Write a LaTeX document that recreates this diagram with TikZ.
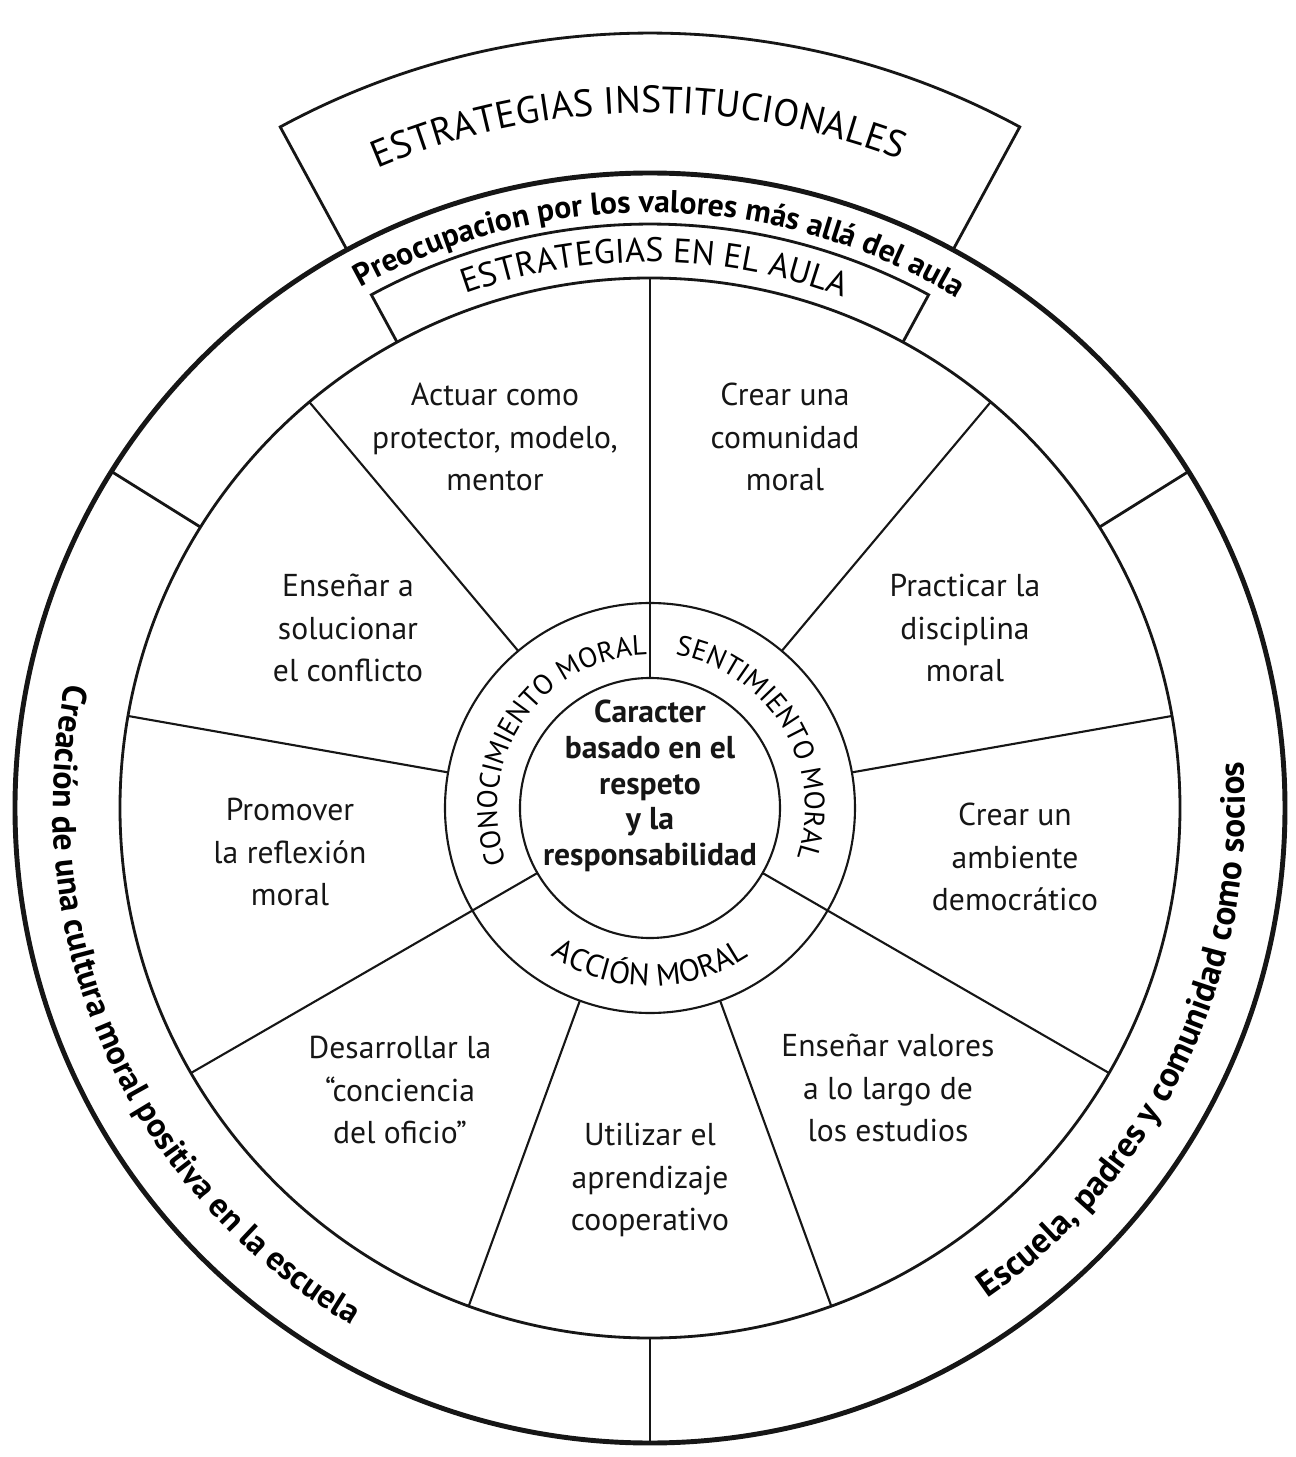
\documentclass[tikz,border=0pt]{standalone}
\usepackage{fontspec}
\setsansfont{PT Sans}
\usetikzlibrary{
  calc,
  decorations.text
}
\definecolor{wheelInk}{HTML}{161616}
\newcommand{\rimR}{6.35}
\newcommand{\bandR}{5.30}
\newcommand{\ringR}{2.05}
\newcommand{\coreR}{1.30}
\tikzset{
  every node/.style={font=\sffamily, text=wheelInk},
  rim/.style={draw=wheelInk, line width=1.4pt},
  border/.style={draw=wheelInk, line width=0.8pt},
  spoke/.style={draw=wheelInk, line width=0.6pt},
  cell/.style={
    font=\sffamily\fontsize{9}{12}\selectfont,
    align=center,
    inner sep=0pt
  },
  core/.style={
    font=\sffamily\bfseries\fontsize{9}{10.2}\selectfont,
    align=center,
    inner sep=0pt
  },
  curved/.style={
    decorate,
    decoration={text along path, text align=center, text={#1}}
  }
}

\begin{document}
\begin{tikzpicture}
  \useasboundingbox (-6.50,-6.49) rectangle (6.46,8.08);

  % tabs on top
  \draw[border] (61.5:\rimR) -- (61.5:7.75)
    arc[start angle=61.5, end angle=118.5, radius=7.75] -- (118.5:\rimR);
  \draw[border] (61.5:\bandR) -- (61.5:5.84)
    arc[start angle=61.5, end angle=118.5, radius=5.84] -- (118.5:\bandR);

  % circles
  \draw[rim] (0,0) circle[radius=\rimR];
  \draw[border] (0,0) circle[radius=\bandR];
  \draw[spoke] (0,0) circle[radius=\ringR];
  \draw[spoke] (0,0) circle[radius=\coreR];

  % band dividers and spokes
  \foreach \a in {32,148,270}
    \draw[border] (\a:\bandR) -- (\a:\rimR);
  \foreach \a in {10,50,130,170,250,290}
    \draw[spoke] (\a:\ringR) -- (\a:\bandR);
  \foreach \a in {90,210,330}
    \draw[spoke] (\a:\coreR) -- (\a:\bandR);

  % curved titles
  \path[curved={|\sffamily\fontsize{10.8}{12}\selectfont|ESTRATEGIAS INSTITUCIONALES}]
    (122:6.95) arc[start angle=122, end angle=60, radius=6.95];
  \path[curved={|\sffamily\bfseries\fontsize{9}{11}\selectfont|Preocupacion por los valores más allá del aula}]
    (144:5.955) arc[start angle=144, end angle=34, radius=5.955];
  \path[curved={|\sffamily\fontsize{9.7}{11}\selectfont|ESTRATEGIAS EN EL AULA}]
    (119:5.46) arc[start angle=119, end angle=60, radius=5.46];
  \path[curved={|\sffamily\bfseries\fontsize{9.6}{11}\selectfont|Creación de una cultura moral positiva en la escuela}]
    (150:5.97) arc[start angle=150, end angle=258, radius=5.97];
  \path[curved={|\sffamily\bfseries\fontsize{10}{11}\selectfont|Escuela, padres y comunidad como socios}]
    (-85:5.95) arc[start angle=-85, end angle=34, radius=5.95];

  % ring labels
  \path[curved={|\sffamily\fontsize{8}{9}\selectfont|CONOCIMIENTO MORAL}]
    (208:1.53) arc[start angle=208, end angle=84, radius=1.53];
  \path[curved={|\sffamily\fontsize{8}{9}\selectfont|SENTIMIENTO MORAL}]
    (92:1.55) arc[start angle=92, end angle=-30, radius=1.55];
  \path[curved={|\sffamily\fontsize{8.8}{10}\selectfont|ACCIÓN MORAL}]
    (210:1.78) arc[start angle=210, end angle=330, radius=1.78];

  % centre
  \node[core] (core) at (0,0.22) {
    Caracter\\ basado en el\\ respeto\\ y la\\ responsabilidad
  };

  % strategies
  \node[cell] (actuar) at (-1.55,3.71) {Actuar como\\ protector, modelo,\\ mentor};
  \node[cell] (comunidad) at (1.35,3.71) {Crear una\\ comunidad\\ moral};
  \node[cell] (disciplina) at (3.15,1.80) {Practicar la\\ disciplina\\ moral};
  \node[cell] (ambiente) at (3.65,-0.49) {Crear un\\ ambiente\\ democrático};
  \node[cell] (estudios) at (2.38,-2.80) {Enseñar valores\\ a lo largo de\\ los estudios};
  \node[cell] (cooperativo) at (0,-3.72) {Utilizar el\\ aprendizaje\\ cooperativo};
  \node[cell] (oficio) at (-2.50,-2.82) {Desarrollar la\\ “conciencia\\ del oficio”};
  \node[cell] (reflexion) at (-3.60,-0.44) {Promover\\ la reflexión\\ moral};
  \node[cell] (conflicto) at (-3.02,1.80) {Enseñar a\\ solucionar\\ el conflicto};
\end{tikzpicture}
\end{document}
